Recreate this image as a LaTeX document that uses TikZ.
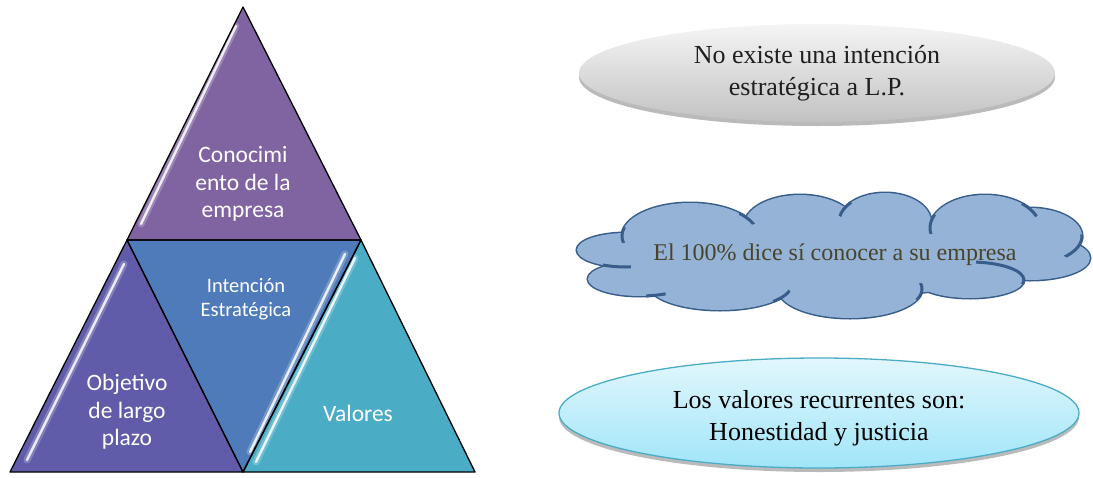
\documentclass[tikz,border=0pt]{standalone}
\usepackage{fontspec}
\setmainfont{Liberation Serif}
\newfontfamily\calib{Carlito}
\usetikzlibrary{calc}
\definecolor{ctop}{RGB}{128,100,162}
\definecolor{cleft}{RGB}{96,92,170}
\definecolor{cmid}{RGB}{79,123,187}
\definecolor{cright}{RGB}{75,172,198}
\definecolor{cloudf}{RGB}{149,179,215}
\definecolor{cloudd}{RGB}{56,93,138}
\definecolor{cloudtxt}{RGB}{73,68,41}
\definecolor{cyanedge}{RGB}{75,172,198}
\tikzset{
  tri/.style={draw=black, line width=1.3pt, line join=round},
  gloss/.style={white, line width=2.4pt, opacity=0.85, line cap=round},
  glossw/.style={white, line width=7pt, opacity=0.22, line cap=round},
  tlabel/.style={text=white, align=center, font=\calib\fontsize{23.5}{27.5}\selectfont},
  rlabel/.style={align=center, font=\fontsize{26}{32}\selectfont},
  shadowst/.style={fill=black!45, opacity=0.6},
  cloudtick/.style={cloudd, line width=3pt},
}
\newcommand\cloudstroke[7]{%
  \begin{scope}\clip (#5,#6) circle (#7pt);
  \draw[cloudtick] (#1,#2) ellipse [x radius=#3pt, y radius=#4pt];
  \end{scope}}
\begin{document}
\begin{tikzpicture}[x=1pt,y=-1pt]
\useasboundingbox (0,0) rectangle (1093,477);
% vertices
\coordinate (T) at (243,7);
\coordinate (A) at (127,240);
\coordinate (B) at (361,240);
\coordinate (L) at (10,472);
\coordinate (M) at (243,472);
\coordinate (R) at (475,472);
% triangles
\fill[ctop] (T) -- (A) -- (B) -- cycle;
\fill[cleft] (A) -- (L) -- (M) -- cycle;
\fill[cmid] (A) -- (B) -- (M) -- cycle;
\fill[cright] (B) -- (M) -- (R) -- cycle;
% gloss stripes
\draw[glossw] (236,26) -- (141,224);
\draw[gloss] (236,26) -- (141,224);
\draw[glossw] (124,264) -- (27,460);
\draw[gloss] (124,264) -- (27,460);
\draw[glossw] (345,254) -- (250,452);
\draw[gloss] (345,254) -- (250,452);
\draw[glossw] (355,258) -- (256,462);
\draw[gloss] (355,258) -- (256,462);
% outlines
\draw[tri] (T) -- (A) -- (B) -- cycle;
\draw[tri] (A) -- (L) -- (M) -- cycle;
\draw[tri] (A) -- (B) -- (M) -- cycle;
\draw[tri] (B) -- (M) -- (R) -- cycle;
% triangle labels
\node[tlabel] (kno) at (243,184) {Conocimi\\ento de la\\empresa};
\node[tlabel, font=\calib\fontsize{20.5}{24}\selectfont] (int) at (246,299) {Intención\\Estratégica};
\node[tlabel] (obj) at (127,412) {Objetivo\\de largo\\plazo};
\node[tlabel] (val) at (358,413) {Valores};
% ellipse 1
\fill[shadowst] (817,77) ellipse [x radius=238pt, y radius=49pt];
\shade[top color=white!96!black, bottom color=white!76!black] (817,73) ellipse [x radius=238pt, y radius=49pt];
\node[rlabel, text=black!88] (e1) at (817,73) {No existe una intención\\estratégica a L.P.};
% cloud
\def\bumps{690/236/68/33, 800/226/56/31, 885/222/46/29, 985/228/55/33, 1030/236/52/28, 1030/258/60/22, 970/280/54/18, 850/289/72/29, 720/284/72/26, 640/279/52/17, 626/250/49/17, 835/255/190/42}
\foreach \cx/\cy/\rx/\ry in \bumps
  \draw[cloudd, line width=3pt, fill=cloudf] (\cx,\cy) ellipse [x radius=\rx pt, y radius=\ry pt];
\foreach \cx/\cy/\rx/\ry in \bumps
  \fill[cloudf] (\cx,\cy) ellipse [x radius=\rx pt, y radius=\ry pt];
% cloud inner strokes
\cloudstroke{690}{236}{68}{33}{750}{214}{11}
\cloudstroke{885}{222}{46}{29}{845}{209}{9}
\cloudstroke{985}{228}{55}{33}{931}{224}{10}
\cloudstroke{985}{228}{55}{33}{1030}{209}{10}
\cloudstroke{1030}{236}{52}{28}{1074}{246}{14}
\cloudstroke{850}{289}{72}{29}{921}{292}{9}
\cloudstroke{720}{284}{72}{26}{782}{297}{10}
\cloudstroke{640}{279}{52}{17}{656}{296}{10}
\cloudstroke{626}{250}{49}{17}{617}{266}{14}
\cloudstroke{690}{236}{68}{33}{623}{235}{8}
\begin{scope}
  \clip (976,256) rectangle (1030,283);
  \draw[cloudtick] (970,280) ellipse [x radius=54pt, y radius=18pt];
\end{scope}
\node[font=\fontsize{24}{28}\selectfont, text=cloudtxt] (cl) at (835,255) {El 100\% dice sí conocer a su empresa};
% ellipse 3
\fill[shadowst] (819,417) ellipse [x radius=260pt, y radius=55pt];
\shade[top color={rgb,255:red,226;green,247;blue,253}, bottom color={rgb,255:red,160;green,229;blue,249}] (819,413) ellipse [x radius=260pt, y radius=55pt];
\draw[cyanedge, line width=1.3pt] (819,413) ellipse [x radius=260pt, y radius=55pt];
\node[rlabel] (e3) at (819,418) {Los valores recurrentes son:\\Honestidad y justicia};
\end{tikzpicture}
\end{document}
